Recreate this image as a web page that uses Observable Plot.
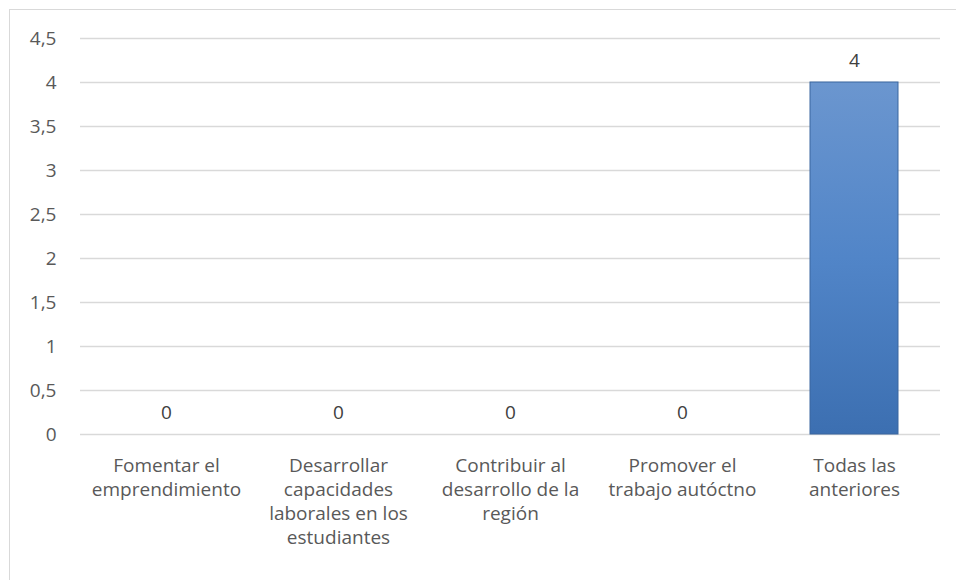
<!DOCTYPE html>
<html>
<head>
<meta charset="utf-8">
<script src="https://cdn.jsdelivr.net/npm/d3@7"></script>
<script src="https://cdn.jsdelivr.net/npm/@observablehq/plot@0.6"></script>
<style>
  html, body { margin: 0; padding: 0; background: #fff; }
  #frame { position: absolute; left: 9px; top: 9px; width: 960px; height: 600px; border: 1.5px solid #d9d9d9; box-sizing: border-box; }
  #chart { position: absolute; left: 0; top: 0; }
</style>
</head>
<body>
<div id="frame"></div>
<div id="chart"></div>
<script>
const categories = [
  "Fomentar el\nemprendimiento",
  "Desarrollar\ncapacidades\nlaborales en los\nestudiantes",
  "Contribuir al\ndesarrollo de la\nregión",
  "Promover el\ntrabajo autóctno",
  "Todas las\nanteriores"
];
const values = [0, 0, 0, 0, 4];
const yTicks = [0, 0.5, 1, 1.5, 2, 2.5, 3, 3.5, 4, 4.5];

const data = categories.map((c, i) => ({category: c, value: values[i]}));
const fmt = v => String(v).replace(".", ",");
const font = "'Open Sans', Lato, sans-serif";

const plot = Plot.plot({
  width: 956,
  height: 580,
  marginLeft: 80,
  marginRight: 16,
  marginTop: 38,
  marginBottom: 146,
  style: {fontFamily: font, fontSize: "19px", color: "#595959", background: "transparent"},
  x: {domain: categories, paddingInner: 0.49, paddingOuter: 0.245, label: null},
  y: {domain: [0, 4.5], ticks: yTicks, label: null},
  marks: [
    Plot.gridY(yTicks, {stroke: "#d9d9d9", strokeOpacity: 1, strokeWidth: 1.5}),
    Plot.axisY(yTicks, {tickSize: 0, tickPadding: 24, tickFormat: fmt, label: null, fill: "#595959"}),
    Plot.axisX({tickSize: 0, tickPadding: 20.5, lineHeight: 1.265, label: null, fill: "#595959"}),
    Plot.barY(data, {x: "category", y: "value", fill: "url(#barGrad)", stroke: "#3a679f", strokeWidth: 1, filter: d => d.value > 0, style: {filter: "url(#shadow)"}}),
    Plot.text(data, {x: "category", y: "value", text: d => fmt(d.value), lineAnchor: "bottom", dy: -16, fill: "#404040", fontSize: 19})
  ]
});

const svg = d3.select(plot);
const defs = svg.insert("defs", ":first-child");
const g = defs.append("linearGradient").attr("id", "barGrad").attr("x1", 0).attr("y1", 0).attr("x2", 0).attr("y2", 1);
g.append("stop").attr("offset", "0%").attr("stop-color", "#6b96cf");
g.append("stop").attr("offset", "50%").attr("stop-color", "#5185c8");
g.append("stop").attr("offset", "100%").attr("stop-color", "#3c6fb1");
const f = defs.append("filter").attr("id", "shadow").attr("x", "-20%").attr("y", "-20%").attr("width", "140%").attr("height", "140%");
f.append("feDropShadow").attr("dx", 1).attr("dy", 2).attr("stdDeviation", 2).attr("flood-color", "#000").attr("flood-opacity", 0.3);

document.getElementById("chart").appendChild(plot);
</script>
</body>
</html>
